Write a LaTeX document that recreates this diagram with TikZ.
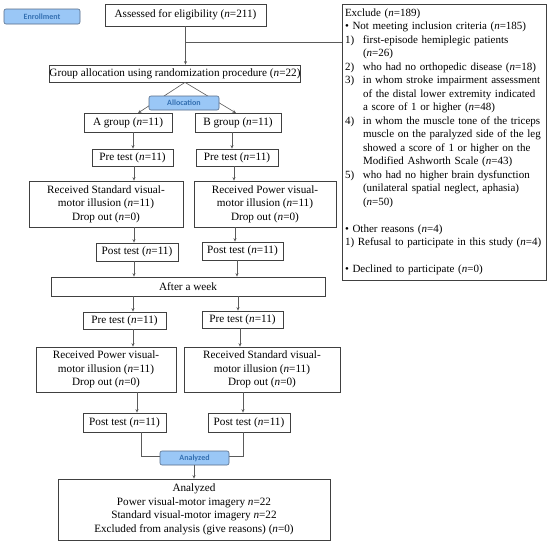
\documentclass[tikz,border=0pt]{standalone}
\usepackage{fontspec}
\setmainfont{Liberation Serif}
\newfontfamily\lblfont{Carlito}
\usetikzlibrary{arrows.meta}
\definecolor{lc}{HTML}{5A5A5A}
\definecolor{bc}{HTML}{404040}
\definecolor{lblfill}{HTML}{9AC7F6}
\definecolor{lbldraw}{HTML}{566C88}
\definecolor{lbltext}{HTML}{3470B2}
\newcommand{\nv}{\textit{n}}
\newcommand{\hi}[1]{\makebox[18pt][l]{#1}}
\newcommand{\hc}{\hspace*{18pt}}
\begin{document}
\begin{tikzpicture}[x=1pt,y=-1pt,
 box/.style={draw=bc,line width=0.7pt,inner sep=0pt,align=center,font=\fontsize{11.2}{13.5}\selectfont},
 lbl/.style={draw=lbldraw,fill=lblfill,rounded corners=2pt,line width=0.6pt,inner sep=0pt,font=\lblfont\bfseries\fontsize{8}{9}\selectfont,text=lbltext},
 arr/.style={draw=lc,line width=0.6pt,-{Stealth[length=3.5pt,width=3pt]}},
 ln/.style={draw=lc,line width=0.6pt}]
\useasboundingbox (0,0) rectangle (550,544);
\fill[white] (0,0) rectangle (550,544);

% labels
\node[lbl,minimum width=76pt,minimum height=15pt] (enroll) at (42,16.5) {Enrollment};

% top
\node[box,minimum width=161pt,minimum height=22pt] (assess) at (185.5,15) {Assessed for eligibility (\nv=211)};
\node[box,minimum width=204pt,minimum height=276pt,text width=199pt,align=left,font=\fontsize{11}{13.5}\selectfont] (excl) at (444.5,142) {Exclude (\nv=189)\\
\mbox{• Not meeting inclusion criteria (\nv=185)}\\
\hi{1)}\mbox{first-episode hemiplegic patients}\\
\hc(\nv=26)\\
\hi{2)}\mbox{who had no orthopedic disease (\nv=18)}\\
\hi{3)}\mbox{in whom stroke impairment assessment}\\
\hc\mbox{of the distal lower extremity indicated}\\
\hc\mbox{a score of 1 or higher (\nv=48)}\\
\hi{4)}\mbox{in whom the muscle tone of the triceps}\\
\hc\mbox{muscle on the paralyzed side of the leg}\\
\hc\mbox{showed a score of 1 or higher on the}\\
\hc\mbox{Modified Ashworth Scale (\nv=43)}\\
\hi{5)}\mbox{who had no higher brain dysfunction}\\
\hc\mbox{(unilateral spatial neglect, aphasia)}\\
\hc(\nv=50)\\[13.5pt]
\mbox{• Other reasons (\nv=4)}\\
\mbox{1) Refusal to participate in this study (\nv=4)}\\[13.5pt]
\mbox{• Declined to participate (\nv=0)}};
\node[box,minimum width=246pt,minimum height=17pt] (galloc) at (175,73.5) {Group allocation using randomization procedure (\nv=22)};

\draw[arr] (assess.south) -- (185.5,0 |- galloc.north);
\coordinate (tee) at (185.5,42);
\draw[ln] (tee) -- (tee -| excl.west);

% allocation
\draw[arr] (185,0 |- galloc.south) -- (138,113);
\draw[arr] (185,0 |- galloc.south) -- (236,113);
\node[lbl,minimum width=70pt,minimum height=14pt] (alloc) at (184,103) {Allocation};

\node[box,minimum width=88pt,minimum height=19pt] (Ag) at (128,122.5) {A group (\nv=11)};
\node[box,minimum width=86pt,minimum height=19pt] (Bg) at (238,122.5) {B group (\nv=11)};

% phase 1
\node[box,minimum width=81pt,minimum height=17pt] (preA1) at (132.5,157.5) {Pre test (\nv=11)};
\node[box,minimum width=82pt,minimum height=17pt] (preB1) at (237,157.5) {Pre test (\nv=11)};
\node[box,minimum width=154pt,minimum height=46pt] (recA1) at (106,204) {Received Standard visual-\\motor illusion (\nv=11)\\Drop out (\nv=0)};
\node[box,minimum width=142pt,minimum height=46pt] (recB1) at (265,204) {Received Power visual-\\motor illusion (\nv=11)\\Drop out (\nv=0)};
\node[box,minimum width=82pt,minimum height=18pt] (postA1) at (137,252) {Post test (\nv=11)};
\node[box,minimum width=81pt,minimum height=18pt] (postB1) at (242.5,251) {Post test (\nv=11)};
\node[box,minimum width=274pt,minimum height=19pt] (week) at (188,286.5) {After a week};

\draw[arr] (133,0 |- Ag.south) -- (133,0 |- preA1.north);
\draw[arr] (232,0 |- Bg.south) -- (232,0 |- preB1.north);
\draw[arr] (134,0 |- preA1.south) -- (134,0 |- recA1.north);
\draw[arr] (234,0 |- preB1.south) -- (234,0 |- recB1.north);
\draw[arr] (134,0 |- recA1.south) -- (134,0 |- postA1.north);
\draw[arr] (235,0 |- recB1.south) -- (235,0 |- postB1.north);
\draw[arr] (134,0 |- postA1.south) -- (134,0 |- week.north);
\draw[arr] (237,0 |- postB1.south) -- (237,0 |- week.north);

% phase 2
\node[box,minimum width=83pt,minimum height=17pt] (preA2) at (124.5,320.5) {Pre test (\nv=11)};
\node[box,minimum width=81pt,minimum height=17pt] (preB2) at (242.5,319.5) {Pre test (\nv=11)};
\node[box,minimum width=140pt,minimum height=45pt] (recA2) at (106,369.5) {Received Power visual-\\motor illusion (\nv=11)\\Drop out (\nv=0)};
\node[box,minimum width=156pt,minimum height=45pt] (recB2) at (262,369.5) {Received Standard visual-\\motor illusion (\nv=11)\\Drop out (\nv=0)};
\node[box,minimum width=83pt,minimum height=19pt] (postA2) at (124.5,422.5) {Post test (\nv=11)};
\node[box,minimum width=82pt,minimum height=19pt] (postB2) at (249,422.5) {Post test (\nv=11)};

\draw[arr] (133,0 |- week.south) -- (133,0 |- preA2.north);
\draw[arr] (238,0 |- week.south) -- (238,0 |- preB2.north);
\draw[arr] (133,0 |- preA2.south) -- (133,0 |- recA2.north);
\draw[arr] (240,0 |- preB2.south) -- (240,0 |- recB2.north);
\draw[arr] (137,0 |- recA2.south) -- (137,0 |- postA2.north);
\draw[arr] (243,0 |- recB2.south) -- (243,0 |- postB2.north);

% analysis
\draw[ln] (141,0 |- postA2.south) -- (141,456) -- (243,456) -- (243,0 |- postB2.south);
\node[lbl,minimum width=69pt,minimum height=14pt] (anlbl) at (194.5,458) {Analyzed};
\node[box,minimum width=272pt,minimum height=61pt] (anbox) at (194,509.5) {Analyzed\\Power visual-motor imagery \nv=22\\Standard visual-motor imagery \nv=22\\Excluded from analysis (give reasons) (\nv=0)};
\draw[arr] (194,0 |- anlbl.south) -- (194,0 |- anbox.north);
\end{tikzpicture}
\end{document}
